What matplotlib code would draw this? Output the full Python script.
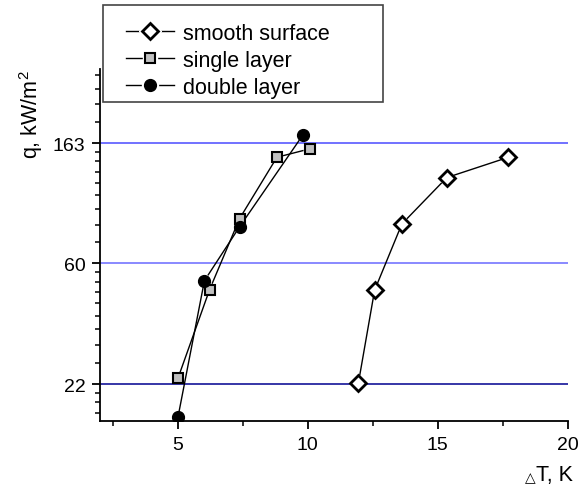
import matplotlib
matplotlib.use('Agg')
import matplotlib.pyplot as plt
import numpy as np
from matplotlib.lines import Line2D
from matplotlib.legend_handler import HandlerTuple
from matplotlib.patches import Rectangle
from matplotlib.ticker import FixedLocator, NullFormatter

plt.rcParams['font.family'] = ['Liberation Sans', 'DejaVu Sans']
plt.rcParams['mathtext.fontset'] = 'custom'
plt.rcParams['mathtext.rm'] = 'Liberation Sans'
plt.rcParams['mathtext.it'] = 'Liberation Sans:italic'

# data (dT in K, q in kW/m2)
smooth_dT = [11.95, 12.57, 13.62, 15.35, 17.72]
smooth_q = [22.3, 48.0, 83.3, 122.5, 145.0]
single_dT = [5.0, 6.22, 7.37, 8.81, 10.07]
single_q = [23.1, 48.3, 87.0, 145.0, 155.5]
double_dT = [5.0, 6.02, 7.37, 9.81]
double_q = [16.7, 52.0, 81.3, 174.5]

q_ticks = [22, 60, 163]
ref_lines = [163, 60, 22]
ref_colors = ['#4a4aff', '#6a6aff', '#000090']

labels = ['smooth surface', 'single layer', 'double layer']

W, H = 587, 485
fig = plt.figure(figsize=(W / 100, H / 100), dpi=100)
ax = fig.add_axes([100 / W, (H - 422) / H, (567.6 - 100) / W, (422 - 70) / H])

ax.set_yscale('log')
ax.set_xlim(2, 20)
ax.set_ylim(16.2, 302)

# majors are e-multiples, minors linear in between
ext = [q_ticks[0] / np.e] + q_ticks + [q_ticks[-1] * np.e]
minors = []
for a, b in zip(ext[:-1], ext[1:]):
    minors += list(np.linspace(a, b, 10)[1:-1])
ax.yaxis.set_major_locator(FixedLocator(q_ticks))
ax.yaxis.set_minor_locator(FixedLocator(minors))
ax.yaxis.set_minor_formatter(NullFormatter())
ax.set_yticklabels([str(t) for t in q_ticks])

ax.xaxis.set_major_locator(FixedLocator([5, 10, 15, 20]))
ax.xaxis.set_minor_locator(FixedLocator([2.5, 7.5, 12.5, 17.5]))

for s in ['top', 'right']:
    ax.spines[s].set_visible(False)
for s in ['left', 'bottom']:
    ax.spines[s].set_linewidth(1.3)
ax.tick_params(which='major', direction='out', length=6, width=1.3, labelsize=14, pad=4.5)
ax.tick_params(which='minor', direction='out', length=3.5, width=1.1)

for v, c in zip(ref_lines, ref_colors):
    ax.axhline(v, color=c, lw=1.1, zorder=1)


# Origin-style lines: leave a gap around each marker
def gapped(x, y, gap):
    pts = ax.transData.transform(np.column_stack([x, y]))
    inv = ax.transData.inverted()
    for p0, p1 in zip(pts[:-1], pts[1:]):
        d = p1 - p0
        n = np.hypot(d[0], d[1])
        if n <= 2 * gap:
            continue
        u = d / n
        seg = inv.transform(np.array([p0 + u * gap, p1 - u * gap]))
        ax.plot(seg[:, 0], seg[:, 1], color='black', lw=1.0, zorder=2)


gapped(smooth_dT, smooth_q, 8)
gapped(single_dT, single_q, 7)
gapped(double_dT, double_q, 7)

sty_smooth = dict(marker='D', ms=8.5, mfc='white', mec='black', mew=2.0, ls='none')
sty_single = dict(marker='s', ms=7.5, mfc='#c0c0c0', mec='black', mew=1.5, ls='none')
sty_double = dict(marker='o', ms=8.5, mfc='black', mec='black', mew=1.0, ls='none')

ax.plot(smooth_dT, smooth_q, zorder=4, **sty_smooth)
ax.plot(single_dT, single_q, zorder=4, **sty_single)
ax.plot(double_dT, double_q, zorder=4, **sty_double)

# legend handles with gap around marker
handles = []
for sty in [sty_smooth, sty_single, sty_double]:
    line = Line2D([], [], color='black', lw=1.0)
    halo = Line2D([], [], marker=sty['marker'], ms=sty['ms'] + 3, mfc='white', mec='white', ls='none')
    mk = Line2D([], [], **sty)
    handles.append((line, halo, mk))

# legend frame drawn separately (Origin box has extra room on the right)
box = Rectangle((103 / W, 1 - 103 / H), 280 / W, 97 / H, transform=fig.transFigure,
                facecolor='white', edgecolor='#444444', linewidth=1.2, zorder=5)
fig.patches.append(box)

leg = fig.legend(handles, labels, handler_map={tuple: HandlerTuple(ndivide=1, pad=0)},
                 loc='upper left', bbox_to_anchor=(120 / W, 1 - 17.5 / H),
                 bbox_transform=fig.transFigure, borderaxespad=0, frameon=False,
                 numpoints=1, handlelength=2.2, handletextpad=0.42, labelspacing=0.27,
                 borderpad=0.3, fontsize=15.5)
leg.set_zorder(6)

fig.text(31 / W, 1 - 115 / H, 'q, kW/m$^2$', rotation=90, ha='center', va='center', fontsize=15.5)
fig.text(536 / W, 1 - 476 / H, 'T, K', ha='left', va='center', fontsize=15.5)
fig.text(530 / W, 1 - 478 / H, '\u25b3', ha='center', va='center', fontsize=10,
         family=['DejaVu Sans'])

fig.savefig('out.png', dpi=100)
